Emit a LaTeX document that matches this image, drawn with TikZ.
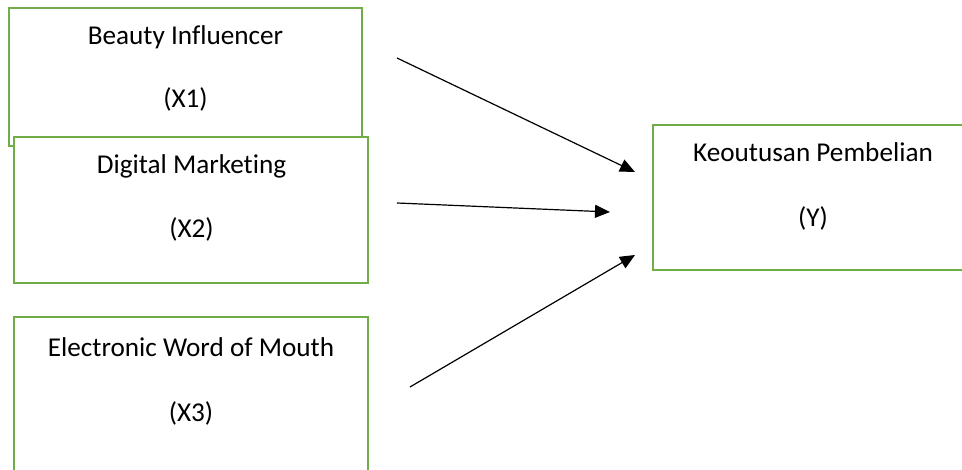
\documentclass[tikz,border=0pt]{standalone}
\usepackage{fontspec}
\setmainfont{Carlito}[Ligatures=NoCommon]
\usetikzlibrary{arrows.meta}
\definecolor{boxgreen}{RGB}{112,173,71}
\begin{document}
\begin{tikzpicture}[x=1pt,y=-1pt,
  vbox/.style={draw=boxgreen,line width=2.5pt,fill=white,rectangle,inner sep=0pt},
  lbl/.style={font=\fontsize{27.2}{32}\selectfont,inner sep=0pt,anchor=base},
  arr/.style={line width=1.2pt,-{Triangle[length=15pt,width=13pt]}}]
\clip (0,0) rectangle (962,470);
\fill[white] (0,0) rectangle (962,470);
\node[vbox,minimum width=353pt,minimum height=138pt] (b1) at (185.5,77) {};
\node[vbox,minimum width=354pt,minimum height=146pt] (b2) at (191,210) {};
\node[vbox,minimum width=354pt,minimum height=180pt] (b3) at (191,407) {};
\node[vbox,minimum width=340pt,minimum height=145pt] (by) at (823,197.5) {};
\node[lbl] (t1a) at (185.5,45) {Beauty Influencer};
\node[lbl] (t1b) at (185.5,108) {(X1)};
\node[lbl] (t2a) at (191.5,174) {Digital Marketing};
\node[lbl] (t2b) at (191.5,238) {(X2)};
\node[lbl] (t3a) at (191,357) {Electronic Word of Mouth};
\node[lbl] (t3b) at (191,422) {(X3)};
\node[lbl] (tya) at (813,162) {Keoutusan Pembelian};
\node[lbl] (tyb) at (813,227) {(Y)};
\coordinate (s1) at (397,58);
\coordinate (e1) at (635,172);
\coordinate (s2) at (397,203);
\coordinate (e2) at (610,212);
\coordinate (s3) at (410,387);
\coordinate (e3) at (635,255);
\draw[arr] (s1) -- (e1);
\draw[arr] (s2) -- (e2);
\draw[arr] (s3) -- (e3);
\end{tikzpicture}
\end{document}
